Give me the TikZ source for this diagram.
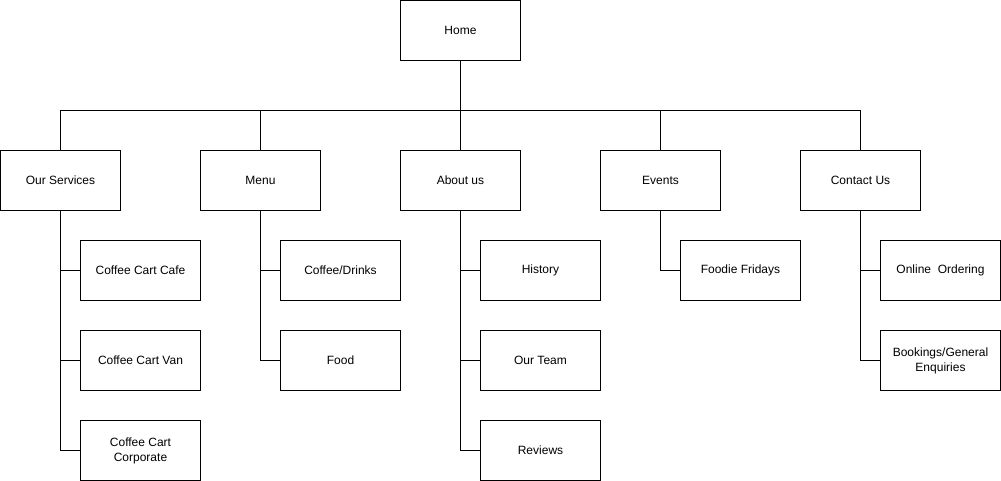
\documentclass[tikz,border=0pt]{standalone}
\usepackage{fontspec}
\setmainfont{Liberation Sans}
\usetikzlibrary{positioning}

\begin{document}
\begin{tikzpicture}[
    x=0.75pt, y=-0.75pt,
    pagebox/.style={rectangle, minimum width=90pt, minimum height=45pt, text centered, align=center, draw=black, fill=white, line width=0.75pt, font=\fontsize{9}{11.25}\selectfont},
    link/.style={line width=0.75pt}
]
\useasboundingbox (0,0) rectangle (1001,481);

% Root
\node[pagebox] (home) at (460.5,30.5) {Home};

% Top level pages
\node[pagebox] (services) at (60.5,180.5) {Our Services};
\node[pagebox] (menu) at (260.5,180.5) {Menu};
\node[pagebox] (about) at (460.5,180.5) {About us};
\node[pagebox] (events) at (660.5,180.5) {Events};
\node[pagebox] (contact) at (860.5,180.5) {Contact Us};

% Sub pages
\node[pagebox] (cafe) at (140.5,270.5) {Coffee Cart Cafe};
\node[pagebox] (van) at (140.5,360.5) {Coffee Cart Van};
\node[pagebox] (corporate) at (140.5,450.5) {Coffee Cart\\Corporate};

\node[pagebox] (drinks) at (340.5,270.5) {Coffee/Drinks};
\node[pagebox] (food) at (340.5,360.5) {Food};

\node[pagebox] (history) at (540.5,270.5) {History};
\node[pagebox] (team) at (540.5,360.5) {Our Team};
\node[pagebox] (reviews) at (540.5,450.5) {Reviews};

\node[pagebox] (fridays) at (740.5,270.5) {Foodie Fridays};

\node[pagebox] (ordering) at (940.5,270.5) {Online~~Ordering};
\node[pagebox] (enquiries) at (940.5,360.5) {Bookings/General\\Enquiries};

% Links
\coordinate (bus) at (460.5,110.5);
\draw[link] (home.south) -- (bus);
\draw[link] (bus) -| (services.north);
\draw[link] (bus) -| (menu.north);
\draw[link] (bus) -- (about.north);
\draw[link] (bus) -| (events.north);
\draw[link] (bus) -| (contact.north);

\draw[link] (services.south) |- (cafe.west);
\draw[link] (services.south) |- (van.west);
\draw[link] (services.south) |- (corporate.west);

\draw[link] (menu.south) |- (drinks.west);
\draw[link] (menu.south) |- (food.west);

\draw[link] (about.south) |- (history.west);
\draw[link] (about.south) |- (team.west);
\draw[link] (about.south) |- (reviews.west);

\draw[link] (events.south) |- (fridays.west);

\draw[link] (contact.south) |- (ordering.west);
\draw[link] (contact.south) |- (enquiries.west);

\end{tikzpicture}
\end{document}
